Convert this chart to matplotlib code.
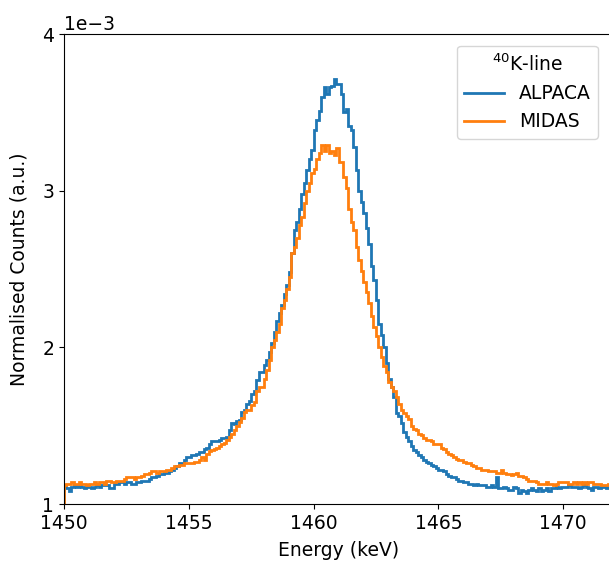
import numpy as np
import matplotlib
matplotlib.use("Agg")
import matplotlib.pyplot as plt
from matplotlib.ticker import MultipleLocator

# Bin settings (keV)
bin_start = 1450.0
bin_width = 0.1

# Normalised counts (units of 1e-3), one value per 0.1 keV bin from 1450 to 1472
alpaca = [
    1.11, 1.10, 1.08, 1.11, 1.12, 1.11, 1.12, 1.11, 1.10, 1.11,
    1.11, 1.10, 1.11, 1.12, 1.11, 1.12, 1.12, 1.12, 1.10, 1.10,
    1.13, 1.13, 1.14, 1.14, 1.13, 1.14, 1.14, 1.13, 1.13, 1.14,
    1.14, 1.15, 1.15, 1.15, 1.16, 1.17, 1.17, 1.18, 1.19, 1.19,
    1.20, 1.20, 1.21, 1.22, 1.23, 1.24, 1.26, 1.26, 1.28, 1.30,
    1.30, 1.31, 1.31, 1.32, 1.33, 1.33, 1.35, 1.36, 1.38, 1.40,
    1.40, 1.40, 1.41, 1.42, 1.42, 1.43, 1.47, 1.52, 1.51, 1.53,
    1.535, 1.59, 1.60, 1.64, 1.66, 1.70, 1.72, 1.79, 1.84, 1.84,
    1.89, 1.92, 1.97, 2.03, 2.10, 2.17, 2.22, 2.27, 2.34, 2.40,
    2.48, 2.60, 2.75, 2.80, 2.88, 2.98, 3.05, 3.13, 3.20, 3.26,
    3.39, 3.45, 3.51, 3.60, 3.66, 3.62, 3.66, 3.67, 3.71, 3.68,
    3.68, 3.62, 3.50, 3.52, 3.41, 3.39, 3.28, 3.13, 3.00, 2.93,
    2.86, 2.76, 2.66, 2.52, 2.43, 2.30, 2.15, 2.08, 2.00, 1.90,
    1.80, 1.75, 1.68, 1.58, 1.56, 1.515, 1.46, 1.43, 1.40, 1.37,
    1.345, 1.33, 1.31, 1.30, 1.28, 1.27, 1.26, 1.25, 1.24, 1.23,
    1.22, 1.22, 1.21, 1.19, 1.18, 1.17, 1.17, 1.16, 1.15, 1.15,
    1.14, 1.14, 1.13, 1.13, 1.12, 1.13, 1.12, 1.12, 1.12, 1.11,
    1.11, 1.12, 1.11, 1.17, 1.10, 1.10, 1.11, 1.10, 1.09, 1.09,
    1.11, 1.10, 1.07, 1.09, 1.08, 1.07, 1.09, 1.10, 1.09, 1.08,
    1.10, 1.08, 1.09, 1.10, 1.08, 1.10, 1.10, 1.11, 1.10, 1.11,
    1.11, 1.11, 1.12, 1.11, 1.11, 1.11, 1.10, 1.11, 1.12, 1.11,
    1.10, 1.09, 1.11, 1.11, 1.10, 1.11, 1.11, 1.10, 1.11, 1.11,
]

midas = [
    1.12, 1.13, 1.13, 1.14, 1.13, 1.13, 1.14, 1.13, 1.13, 1.12,
    1.13, 1.13, 1.14, 1.13, 1.14, 1.14, 1.13, 1.15, 1.15, 1.14,
    1.14, 1.15, 1.15, 1.15, 1.16, 1.175, 1.17, 1.17, 1.16, 1.17,
    1.175, 1.18, 1.19, 1.19, 1.20, 1.21, 1.21, 1.20, 1.21, 1.21,
    1.21, 1.22, 1.22, 1.23, 1.24, 1.24, 1.25, 1.25, 1.26, 1.26,
    1.26, 1.26, 1.27, 1.27, 1.28, 1.30, 1.28, 1.32, 1.34, 1.345,
    1.35, 1.36, 1.37, 1.38, 1.39, 1.41, 1.43, 1.45, 1.47, 1.50,
    1.525, 1.55, 1.59, 1.60, 1.60, 1.63, 1.65, 1.72, 1.75, 1.75,
    1.80, 1.855, 1.92, 2.00, 2.05, 2.10, 2.15, 2.25, 2.30, 2.37,
    2.45, 2.60, 2.64, 2.70, 2.78, 2.83, 2.92, 3.00, 3.05, 3.11,
    3.14, 3.20, 3.24, 3.29, 3.25, 3.29, 3.24, 3.25, 3.23, 3.27,
    3.18, 3.18, 3.09, 3.02, 2.88, 2.80, 2.75, 2.64, 2.56, 2.49,
    2.42, 2.35, 2.28, 2.20, 2.13, 2.07, 2.00, 1.94, 1.88, 1.84,
    1.78, 1.75, 1.72, 1.68, 1.64, 1.60, 1.58, 1.56, 1.54, 1.50,
    1.48, 1.47, 1.45, 1.44, 1.42, 1.41, 1.41, 1.40, 1.38, 1.38,
    1.38, 1.355, 1.35, 1.33, 1.32, 1.31, 1.30, 1.29, 1.28, 1.28,
    1.27, 1.26, 1.26, 1.25, 1.24, 1.23, 1.23, 1.22, 1.22, 1.22,
    1.21, 1.21, 1.21, 1.20, 1.20, 1.22, 1.20, 1.19, 1.19, 1.185,
    1.19, 1.20, 1.18, 1.18, 1.17, 1.16, 1.15, 1.15, 1.15, 1.14,
    1.13, 1.13, 1.13, 1.14, 1.13, 1.13, 1.12, 1.13, 1.14, 1.14,
    1.14, 1.14, 1.13, 1.13, 1.14, 1.13, 1.14, 1.13, 1.14, 1.13,
    1.14, 1.14, 1.13, 1.13, 1.13, 1.12, 1.12, 1.12, 1.13, 1.12,
]

scale = 1e-3
edges = bin_start + bin_width * np.arange(len(alpaca) + 1)

plt.rcParams['font.size'] = 13.5

fig = plt.figure(figsize=(6.09, 5.66), dpi=100)
ax = fig.add_axes([64 / 609, 62 / 566, 549 / 609, 470 / 566])

ax.stairs(np.array(alpaca) * scale, edges, color='#1f77b4', lw=2, label='ALPACA')
ax.stairs(np.array(midas) * scale, edges, color='#ff7f0e', lw=2, label='MIDAS')

ax.set_xlim(1450, 1472)
ax.set_ylim(1e-3, 4e-3)
ax.xaxis.set_major_locator(MultipleLocator(5))
ax.yaxis.set_major_locator(MultipleLocator(1e-3))
ax.ticklabel_format(axis='y', style='sci', scilimits=(0, 0))

ax.set_xlabel('Energy (keV)', labelpad=6)
ax.set_ylabel('Normalised Counts (a.u.)', labelpad=10)

ax.legend(title='$^{40}$K-line', loc='upper right', bbox_to_anchor=(0.99, 0.995),
          borderaxespad=0.5, handlelength=2.1)

fig.savefig('out.png', dpi=100)
